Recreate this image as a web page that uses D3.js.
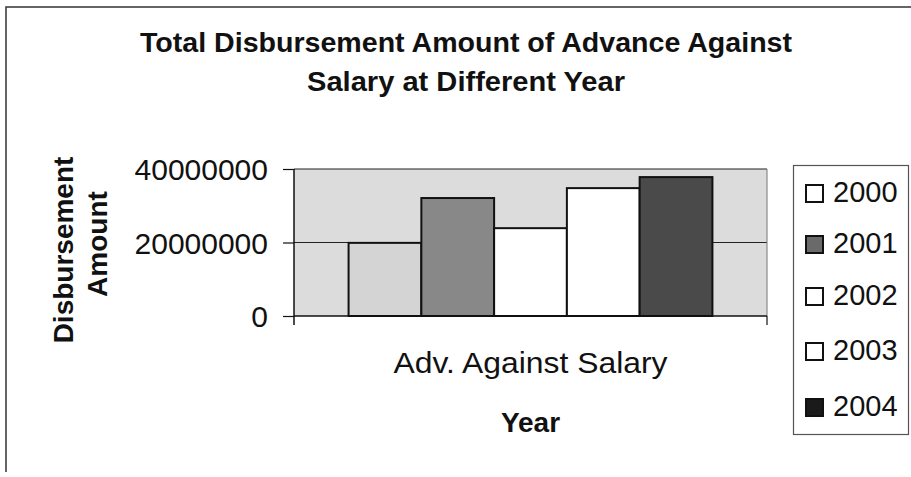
<!DOCTYPE html>
<html>
<head>
<meta charset="utf-8">
<script src="https://cdn.jsdelivr.net/npm/d3@7"></script>
<style>
  body { margin: 0; background: #fff; }
  text { font-family: Arial, "Liberation Sans", sans-serif; fill: #111; }
</style>
</head>
<body>
<div id="chart"></div>
<script>
var width = 911,
    height = 477;

// data
var categories = ["Adv. Against Salary"];
var years = ["2000", "2001", "2002", "2003", "2004"];
var amounts = [19900000, 32100000, 23900000, 34800000, 37800000];
var yTicks = [0, 20000000, 40000000];

var titleLines = ["Total Disbursement Amount of Advance Against", "Salary at Different Year"];
var yTitleLines = ["Disbursement", "Amount"];
var xTitle = "Year";

// styles
var barFill = ["#d4d4d4", "#888888", "#ffffff", "#ffffff", "#4a4a4a"];
var swatchFill = ["#ffffff", "#6a6a6a", "#ffffff", "#ffffff", "#1a1a1a"];

var plot = { left: 294, right: 767, top: 169, bottom: 316 };

var svg = d3.select("#chart").append("svg")
    .attr("width", width)
    .attr("height", height);

// outer chart border (top + left)
svg.append("path")
    .attr("d", "M6,472V7H911")
    .attr("fill", "none")
    .attr("stroke", "#333")
    .attr("stroke-width", 1.5);

// title
svg.selectAll(".title")
    .data(titleLines)
  .enter().append("text")
    .attr("class", "title")
    .attr("x", 466)
    .attr("y", function(d, i) { return 52 + i * 39; })
    .attr("text-anchor", "middle")
    .style("font-weight", "bold")
    .style("font-size", "27px")
    .attr("textLength", function(d, i) { return i == 0 ? 652 : 318; })
    .attr("lengthAdjust", "spacingAndGlyphs")
    .text(function(d) { return d; });

var y = d3.scaleLinear()
    .domain([0, 40000000])
    .range([plot.bottom, plot.top]);

var x0 = d3.scaleBand()
    .domain(categories)
    .range([plot.left, plot.right])
    .paddingInner(0)
    .paddingOuter(0.15);

var x1 = d3.scaleBand()
    .domain(years)
    .range([0, x0.bandwidth()]);

// plot background
svg.append("rect")
    .attr("x", plot.left)
    .attr("y", plot.top)
    .attr("width", plot.right - plot.left)
    .attr("height", plot.bottom - plot.top)
    .attr("fill", "#dcdcdc");

// gridlines
svg.selectAll(".grid")
    .data(yTicks.slice(1))
  .enter().append("line")
    .attr("class", "grid")
    .attr("x1", plot.left)
    .attr("x2", plot.right)
    .attr("y1", function(d) { return y(d); })
    .attr("y2", function(d) { return y(d); })
    .attr("stroke", "#222")
    .attr("stroke-width", 1.2);

svg.append("line")
    .attr("x1", plot.right).attr("x2", plot.right)
    .attr("y1", plot.top).attr("y2", plot.bottom)
    .attr("stroke", "#777");

// bars
var rows = years.map(function(yr, i) { return { year: yr, value: amounts[i], fill: barFill[i] }; });

svg.append("g")
    .attr("transform", "translate(" + x0(categories[0]) + ",0)")
  .selectAll("rect")
    .data(rows)
  .enter().append("rect")
    .attr("x", function(d) { return x1(d.year); })
    .attr("y", function(d) { return y(d.value); })
    .attr("width", x1.bandwidth())
    .attr("height", function(d) { return y(0) - y(d.value); })
    .attr("fill", function(d) { return d.fill; })
    .attr("stroke", "#111")
    .attr("stroke-width", 2);

// y axis
var yAxis = d3.axisLeft(y)
    .tickValues(yTicks)
    .tickFormat(d3.format("d"))
    .tickSize(11)
    .tickSizeOuter(0)
    .tickPadding(15);

var gy = svg.append("g")
    .attr("transform", "translate(" + plot.left + ",0)")
    .call(yAxis);
gy.select(".domain").remove();
gy.selectAll("line").attr("stroke", "#111").attr("stroke-width", 1.2);
gy.selectAll("text")
    .style("font-size", "30px")
    .attr("fill", "#111")
    .attr("dy", "0.36em");

// x axis line and boundary ticks
svg.append("line")
    .attr("x1", plot.left).attr("x2", plot.right)
    .attr("y1", plot.bottom).attr("y2", plot.bottom)
    .attr("stroke", "#111").attr("stroke-width", 1.5);
svg.append("line")
    .attr("x1", plot.left).attr("x2", plot.left)
    .attr("y1", plot.top).attr("y2", plot.bottom + 9)
    .attr("stroke", "#111").attr("stroke-width", 1.5);
svg.append("line")
    .attr("x1", plot.right).attr("x2", plot.right)
    .attr("y1", plot.bottom).attr("y2", plot.bottom + 9)
    .attr("stroke", "#111").attr("stroke-width", 1.2);

// category label
svg.selectAll(".cat")
    .data(categories)
  .enter().append("text")
    .attr("class", "cat")
    .attr("x", function(d) { return x0(d) + x0.bandwidth() / 2; })
    .attr("y", 373)
    .attr("text-anchor", "middle")
    .style("font-size", "29px")
    .attr("textLength", 274)
    .attr("lengthAdjust", "spacingAndGlyphs")
    .text(function(d) { return d; });

// axis titles
svg.append("text")
    .attr("x", (plot.left + plot.right) / 2)
    .attr("y", 432)
    .attr("text-anchor", "middle")
    .style("font-weight", "bold")
    .style("font-size", "28px")
    .text(xTitle);

svg.selectAll(".ytitle")
    .data(yTitleLines)
  .enter().append("text")
    .attr("class", "ytitle")
    .attr("transform", function(d, i) {
      return "translate(" + (73 + i * 34) + "," + (250 - i * 6) + ")rotate(-90)";
    })
    .attr("text-anchor", "middle")
    .style("font-weight", "bold")
    .style("font-size", "28px")
    .text(function(d) { return d; });

// legend
var legend = svg.append("g").attr("id", "legend");
legend.append("rect")
    .attr("x", 793.5)
    .attr("y", 165.5)
    .attr("width", 115)
    .attr("height", 269)
    .attr("fill", "#fff")
    .attr("stroke", "#555")
    .attr("stroke-width", 1.2);

var baselines = [202, 253, 305, 360, 416];
var item = legend.selectAll(".item")
    .data(years)
  .enter().append("g")
    .attr("class", "item")
    .attr("transform", function(d, i) { return "translate(0," + baselines[i] + ")"; });

item.append("rect")
    .attr("x", 806)
    .attr("y", -17)
    .attr("width", 17)
    .attr("height", 17)
    .attr("fill", function(d, i) { return swatchFill[i]; })
    .attr("stroke", "#111")
    .attr("stroke-width", 2);

item.append("text")
    .attr("x", 833)
    .attr("y", 0)
    .style("font-size", "29px")
    .text(function(d) { return d; });
</script>
</body>
</html>
